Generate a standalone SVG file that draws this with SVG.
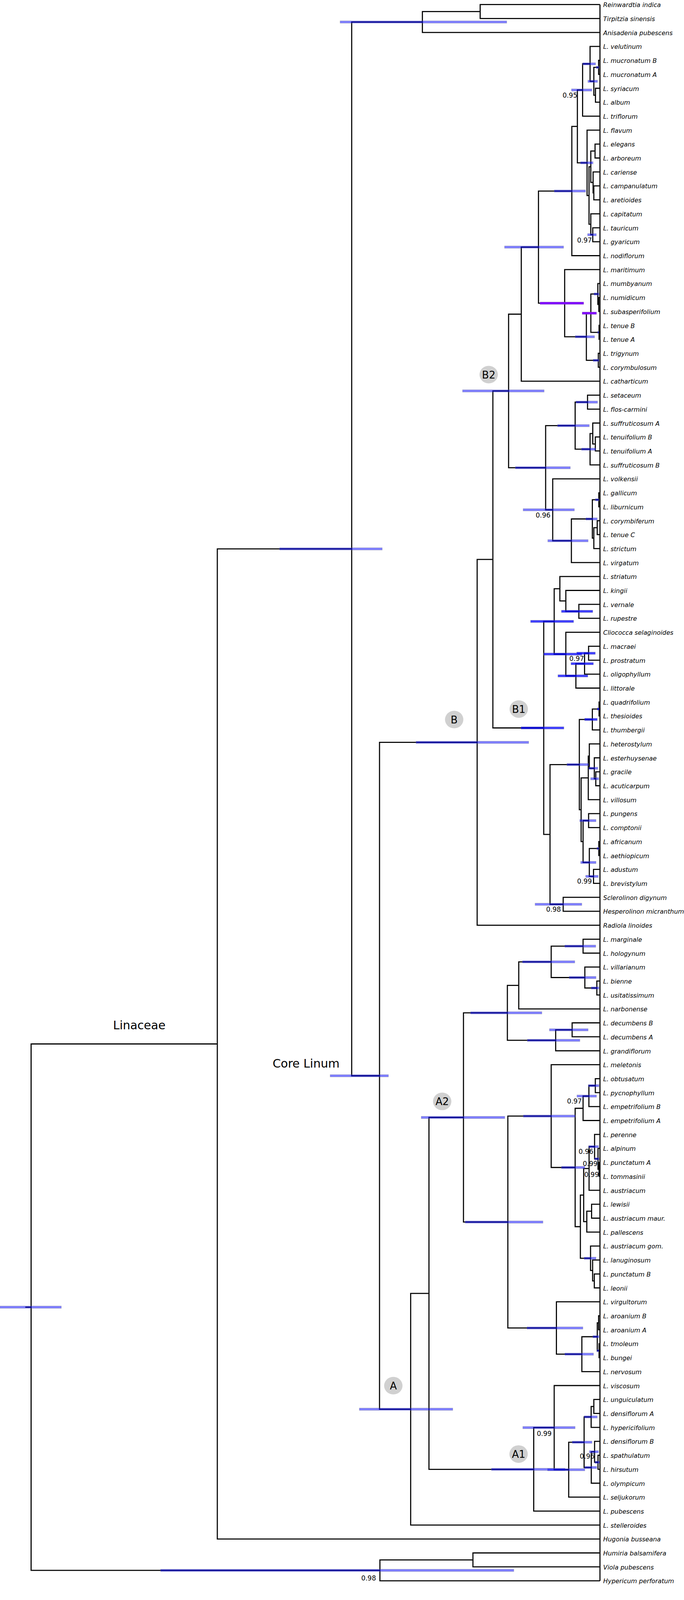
<svg xmlns="http://www.w3.org/2000/svg" width="1750" height="4125" viewBox="0 0 1750 4125">
<style>
.br{fill:none;stroke:#000;stroke-width:2.8;stroke-linejoin:miter;stroke-linecap:butt}
.b{fill:#0000ff;fill-opacity:.5;stroke:#808080;stroke-opacity:.45;stroke-width:1}
.s{fill:#0000ff;fill-opacity:.75;stroke:#808080;stroke-opacity:.45;stroke-width:1}
.p{fill:#8000ff;stroke:#808080;stroke-opacity:.45;stroke-width:1}
.t{font-family:"DejaVu Sans",Verdana,sans-serif;font-style:italic;font-size:15.9px;fill:#000}
.sv{font-family:"DejaVu Sans",Verdana,sans-serif;font-size:17px;text-anchor:end;fill:#000}
.big{font-family:"DejaVu Sans",Verdana,sans-serif;font-size:30px;fill:#000}
.cl ellipse{fill:#d0d0d0}
.cl text{font-family:"DejaVu Sans",Verdana,sans-serif;font-size:26px;text-anchor:middle;fill:#000}
.ax line,.ax path{stroke:#000;stroke-width:2.5;fill:none}
.ax text{font-family:"DejaVu Sans",Verdana,sans-serif;font-size:13px;text-anchor:middle;fill:#000}
</style>
<rect width="1750" height="4125" fill="#fff"/>
<g id="support">
<text class="sv" x="1477" y="250.4">0.95</text>
<text class="sv" x="1514.3" y="621.4">0.97</text>
<text class="sv" x="1408.3" y="1324.5">0.96</text>
<text class="sv" x="1494.4" y="1691.9">0.97</text>
<text class="sv" x="1514.3" y="2261.7">0.99</text>
<text class="sv" x="1435.1" y="2333.9">0.98</text>
<text class="sv" x="1488.7" y="2825.4">0.97</text>
<text class="sv" x="1518.2" y="2954.4">0.96</text>
<text class="sv" x="1528.9" y="2984.8">0.99</text>
<text class="sv" x="1532.5" y="3012.9">0.99</text>
<text class="sv" x="1411.4" y="3675.6">0.99</text>
<text class="sv" x="1521.2" y="3734.2">0.96</text>
<text class="sv" x="962" y="4045.5">0.98</text>
</g>
<g id="connectors" class="br">
<path d="M1535 11.7V4046.9"/>
<path d="M1535 11.7H1228.5V47.4H1535"/>
<path d="M1228.5 29.55H1080.7V83.1H1535"/>
<path d="M1080.7 56.3H899.8V2754H971"/>
<path d="M899.8 1405.15H556V3939.8H1535"/>
<path d="M556 2672.5H79.6V4020.1H972"/>
<path d="M64.7 3346.3H79.6"/>
<path d="M1210 3993.35H972V4046.9H1535"/>
<path d="M1535 3975.5H1210V4011.2H1535"/>
<path d="M1220.8 1900.4H971V3607.6H1050.7"/>
<path d="M1097.5 3311.1H1050.7V3904.1H1535"/>
<path d="M1185.8 2860.7H1097.5V3761.55H1365.5"/>
<path d="M1261 1432.15H1220.8V2368.6H1535"/>
<path d="M1301.2 1000.8H1261V1863.5H1391.1"/>
<path d="M1333.7 804.25H1301.2V1197.4H1396"/>
<path d="M1377.7 632.6H1333.7V975.9H1535"/>
<path d="M1463 489.05H1377.7V776.15H1444.7"/>
<path d="M1477.2 323.6H1463V654.5H1535"/>
<path d="M1490.6 230.4H1477.2V416.8H1502"/>
<path d="M1509.7 163.5H1490.6V297.4H1535"/>
<path d="M1535 118.8H1509.7V208.1H1519.3"/>
<path d="M1531.5 172.4H1519.3V243.85H1523.5"/>
<path d="M1535 154.5H1531.5V190.3H1535"/>
<path d="M1535 226H1523.5V261.7H1535"/>
<path d="M1535 333.1H1502V500.5H1507"/>
<path d="M1511.6 426.8H1507V574.2H1511.6"/>
<path d="M1522.4 386.65H1511.6V466.98H1517.4"/>
<path d="M1535 368.8H1522.4V404.5H1535"/>
<path d="M1535 440.2H1517.4V493.75H1519.3"/>
<path d="M1535 475.9H1519.3V511.6H1535"/>
<path d="M1535 547.4H1511.6V600.95H1516.6"/>
<path d="M1535 583.1H1516.6V618.8H1535"/>
<path d="M1535 690.2H1444.7V862.1H1500.2"/>
<path d="M1511.7 801.8H1500.2V922.35H1530.8"/>
<path d="M1529.6 752.7H1511.7V850.85H1532.7"/>
<path d="M1535 725.9H1529.6V779.45H1532"/>
<path d="M1535 761.6H1532V797.3H1535"/>
<path d="M1535 833H1532.7V868.7H1535"/>
<path d="M1535 904.5H1530.8V940.2H1535"/>
<path d="M1471.5 1089.7H1396V1305.05H1414.1"/>
<path d="M1503.2 1029.45H1471.5V1149.95H1509.7"/>
<path d="M1535 1011.6H1503.2V1047.3H1535"/>
<path d="M1516.6 1109.8H1509.7V1190.1H1535"/>
<path d="M1535 1083H1516.6V1136.55H1523.1"/>
<path d="M1535 1118.7H1523.1V1154.4H1535"/>
<path d="M1535 1225.8H1414.1V1384.3H1461.9"/>
<path d="M1515.5 1328.5H1461.9V1440.1H1535"/>
<path d="M1532 1279.45H1515.5V1377.6H1519.3"/>
<path d="M1535 1261.6H1532V1297.3H1535"/>
<path d="M1528 1350.85H1519.3V1404.4H1535"/>
<path d="M1535 1333H1528V1368.7H1535"/>
<path d="M1417.9 1590.8H1391.1V2136.15H1407.2"/>
<path d="M1432.4 1507.05H1417.9V1674.5H1447.7"/>
<path d="M1535 1475.8H1432.4V1538.3H1447.7"/>
<path d="M1535 1511.5H1447.7V1565.05H1481"/>
<path d="M1535 1547.2H1481V1582.9H1535"/>
<path d="M1535 1618.7H1447.7V1730.25H1473.4"/>
<path d="M1495.6 1699H1473.4V1761.5H1535"/>
<path d="M1505.9 1672.25H1495.6V1725.8H1535"/>
<path d="M1535 1654.4H1505.9V1690.1H1535"/>
<path d="M1482.2 1957.3H1407.2V2315H1440.9"/>
<path d="M1515.5 1841.8H1482.2V2072.85H1486.8"/>
<path d="M1532.7 1815.05H1515.5V1868.6H1535"/>
<path d="M1535 1797.2H1532.7V1832.9H1535"/>
<path d="M1505.1 1991.4H1486.8V2154.3H1491.8"/>
<path d="M1507.8 1935.55H1505.1V2047.2H1535"/>
<path d="M1535 1904.3H1507.8V1966.8H1520.5"/>
<path d="M1535 1940H1520.5V1993.65H1524.3"/>
<path d="M1535 1975.8H1524.3V2011.5H1535"/>
<path d="M1505.9 2100.75H1491.8V2207.85H1507.8"/>
<path d="M1535 2082.9H1505.9V2118.6H1535"/>
<path d="M1532 2172.15H1507.8V2243.55H1518.5"/>
<path d="M1535 2154.3H1532V2190H1535"/>
<path d="M1535 2225.7H1518.5V2261.4H1535"/>
<path d="M1535 2297.1H1440.9V2332.9H1535"/>
<path d="M1298.1 2592.9H1185.8V3128.45H1299.3"/>
<path d="M1327.2 2522.55H1298.1V2663.2H1421.7"/>
<path d="M1410.2 2462.3H1327.2V2582.8H1535"/>
<path d="M1491.8 2422.15H1410.2V2502.5H1496.3"/>
<path d="M1535 2404.3H1491.8V2440H1535"/>
<path d="M1535 2475.7H1496.3V2529.25H1527"/>
<path d="M1535 2511.4H1527V2547.1H1535"/>
<path d="M1463.8 2636.35H1421.7V2690H1535"/>
<path d="M1535 2618.5H1463.8V2654.2H1535"/>
<path d="M1410.2 2857.2H1299.3V3399.7H1423.6"/>
<path d="M1535 2725.7H1410.2V2988.75H1471.5"/>
<path d="M1491.8 2837.25H1471.5V3140.25H1484.9"/>
<path d="M1506.7 2806H1491.8V2868.5H1535"/>
<path d="M1523.1 2779.25H1506.7V2832.8H1535"/>
<path d="M1535 2761.4H1523.1V2797.1H1535"/>
<path d="M1493.3 3059.35H1484.9V3221.15H1510.9"/>
<path d="M1507.1 2991.3H1493.3V3127.4H1501.3"/>
<path d="M1521.2 2935.45H1507.1V3047.1H1535"/>
<path d="M1535 2904.2H1521.2V2966.7H1530"/>
<path d="M1535 2939.9H1530V2993.45H1532.7"/>
<path d="M1535 2975.6H1532.7V3011.3H1535"/>
<path d="M1513.6 3100.65H1501.3V3154.2H1535"/>
<path d="M1535 3082.8H1513.6V3118.5H1535"/>
<path d="M1535 3189.9H1510.9V3252.4H1516.2"/>
<path d="M1535 3225.6H1516.2V3279.15H1520.5"/>
<path d="M1535 3261.3H1520.5V3297H1535"/>
<path d="M1535 3332.7H1423.6V3466.65H1488.7"/>
<path d="M1528.1 3422H1488.7V3511.3H1535"/>
<path d="M1531.5 3386.3H1528.1V3457.75H1532.7"/>
<path d="M1535 3368.4H1531.5V3404.2H1535"/>
<path d="M1535 3439.9H1532.7V3475.6H1535"/>
<path d="M1417.9 3654.7H1365.5V3868.4H1535"/>
<path d="M1535 3547H1417.9V3762.4H1455"/>
<path d="M1494.4 3692.05H1455V3832.7H1535"/>
<path d="M1512.4 3627.3H1494.4V3756.8H1512.8"/>
<path d="M1519.3 3600.55H1512.4V3654.1H1535"/>
<path d="M1535 3582.7H1519.3V3618.4H1535"/>
<path d="M1521.2 3716.6H1512.8V3797H1535"/>
<path d="M1535 3689.8H1521.2V3743.4H1530"/>
<path d="M1535 3725.5H1530V3761.3H1535"/>
</g>
<g id="hpd-bars">
<rect class="b" x="870" y="53.3" width="426.6" height="6"/>
<rect class="b" x="715" y="1402.15" width="263" height="6"/>
<rect class="b" x="0" y="3343.3" width="157" height="6"/>
<rect class="b" x="410.7" y="4017.1" width="904" height="6"/>
<rect class="b" x="844.6" y="2751" width="149.3" height="6"/>
<rect class="b" x="919.2" y="3604.6" width="239.3" height="6"/>
<rect class="b" x="1077.6" y="2857.7" width="214" height="6"/>
<rect class="b" x="1064.3" y="1897.4" width="288.5" height="6"/>
<rect class="b" x="1183.3" y="997.8" width="208.9" height="6"/>
<rect class="s" x="1332.9" y="1860.5" width="109.9" height="6"/>
<rect class="b" x="1490.6" y="160.5" width="33.3" height="6"/>
<rect class="b" x="1504" y="205.1" width="24.9" height="6"/>
<rect class="b" x="1525" y="169.4" width="7.7" height="6"/>
<rect class="b" x="1462" y="227.4" width="52.3" height="6"/>
<rect class="b" x="1484.9" y="413.8" width="32.5" height="6"/>
<rect class="b" x="1417.9" y="486.05" width="80.4" height="6"/>
<rect class="b" x="1290.8" y="629.6" width="151.2" height="6"/>
<rect class="b" x="1503.2" y="597.95" width="22.6" height="6"/>
<rect class="p" x="1381.5" y="773.15" width="111.8" height="6"/>
<rect class="p" x="1489.5" y="798.8" width="36.7" height="6"/>
<rect class="b" x="1519.3" y="749.7" width="13.4" height="6"/>
<rect class="b" x="1528.9" y="847.85" width="3.8" height="6"/>
<rect class="b" x="1471.5" y="859.1" width="49.7" height="6"/>
<rect class="b" x="1517.4" y="919.35" width="15.3" height="6"/>
<rect class="b" x="1318.4" y="1194.4" width="140.8" height="6"/>
<rect class="b" x="1426.3" y="1086.7" width="81.5" height="6"/>
<rect class="b" x="1473.4" y="1026.45" width="55.5" height="6"/>
<rect class="b" x="1487.5" y="1146.95" width="36.8" height="6"/>
<rect class="b" x="1338.3" y="1302.05" width="131.3" height="6"/>
<rect class="b" x="1401.4" y="1381.3" width="103.4" height="6"/>
<rect class="b" x="1498.3" y="1325.5" width="29.8" height="6"/>
<rect class="b" x="1523" y="1276.45" width="9.7" height="6"/>
<rect class="s" x="1357.4" y="1587.8" width="110.2" height="6"/>
<rect class="s" x="1436.3" y="1562.05" width="80.3" height="6"/>
<rect class="s" x="1391.1" y="1671.5" width="97.6" height="6"/>
<rect class="s" x="1475.3" y="1669.25" width="47.8" height="6"/>
<rect class="s" x="1460.8" y="1696" width="57.4" height="6"/>
<rect class="s" x="1427.4" y="1727.25" width="76.6" height="6"/>
<rect class="s" x="1495.6" y="1838.8" width="32.5" height="6"/>
<rect class="s" x="1528" y="1812.05" width="5" height="6"/>
<rect class="b" x="1450.4" y="1954.3" width="55.6" height="6"/>
<rect class="b" x="1506" y="1963.8" width="23.6" height="6"/>
<rect class="b" x="1511" y="1990.65" width="21" height="6"/>
<rect class="b" x="1483" y="2097.75" width="42" height="6"/>
<rect class="b" x="1485.6" y="2204.85" width="39.4" height="6"/>
<rect class="b" x="1527" y="2169.15" width="5.7" height="6"/>
<rect class="b" x="1498.3" y="2240.55" width="32.5" height="6"/>
<rect class="b" x="1368.9" y="2312" width="119.8" height="6"/>
<rect class="b" x="1444.7" y="2419.15" width="79.6" height="6"/>
<rect class="b" x="1456.2" y="2499.5" width="68.8" height="6"/>
<rect class="b" x="1512.4" y="2526.25" width="20.3" height="6"/>
<rect class="b" x="1336.4" y="2459.3" width="134.3" height="6"/>
<rect class="b" x="1405.6" y="2633.35" width="99.2" height="6"/>
<rect class="b" x="1349" y="2660.2" width="134.7" height="6"/>
<rect class="b" x="1203.6" y="2589.9" width="182.9" height="6"/>
<rect class="b" x="1190" y="3125.45" width="199.2" height="6"/>
<rect class="b" x="1338.7" y="2854.2" width="132.8" height="6"/>
<rect class="b" x="1436.3" y="2985.75" width="60" height="6"/>
<rect class="b" x="1505.1" y="2776.25" width="27.6" height="6"/>
<rect class="b" x="1476" y="2803" width="50.2" height="6"/>
<rect class="b" x="1506" y="2932.45" width="25.5" height="6"/>
<rect class="b" x="1521" y="2963.7" width="11.7" height="6"/>
<rect class="b" x="1494.4" y="3218.15" width="30.6" height="6"/>
<rect class="b" x="1347.9" y="3396.7" width="143.5" height="6"/>
<rect class="b" x="1444.7" y="3463.65" width="73.8" height="6"/>
<rect class="b" x="1516.6" y="3419" width="16.1" height="6"/>
<rect class="b" x="1527" y="3454.75" width="5.7" height="6"/>
<rect class="b" x="1257.2" y="3758.55" width="188.6" height="6"/>
<rect class="b" x="1337.5" y="3651.7" width="134" height="6"/>
<rect class="b" x="1400.7" y="3759.4" width="95.6" height="6"/>
<rect class="b" x="1463.8" y="3689.05" width="50.9" height="6"/>
<rect class="b" x="1494.4" y="3624.3" width="33.7" height="6"/>
<rect class="b" x="1507.8" y="3713.6" width="23.7" height="6"/>
<rect class="b" x="1522" y="3740.4" width="12" height="6"/>
<rect class="b" x="1495.6" y="3753.8" width="31.4" height="6"/>
</g>
<g id="clade-labels">
<g id="lbl-linaceae"><text class="big" x="356.3" y="2635" text-anchor="middle">Linaceae</text></g>
<g id="lbl-core"><text class="big" x="697.4" y="2733">Core Linum</text></g>
<g id="lbl-B2" class="cl"><ellipse cx="1250.3" cy="959" rx="23.5" ry="22.5"/><text x="1250.3" y="968.5">B2</text></g>
<g id="lbl-B1" class="cl"><ellipse cx="1327.2" cy="1815.2" rx="23.5" ry="22.5"/><text x="1327.2" y="1824.7">B1</text></g>
<g id="lbl-B" class="cl"><ellipse cx="1162" cy="1842" rx="23.5" ry="22.5"/><text x="1162" y="1851.5">B</text></g>
<g id="lbl-A2" class="cl"><ellipse cx="1131.3" cy="2819.6" rx="23.5" ry="22.5"/><text x="1131.3" y="2829.1">A2</text></g>
<g id="lbl-A" class="cl"><ellipse cx="1006.3" cy="3547.3" rx="23.5" ry="22.5"/><text x="1006.3" y="3556.8">A</text></g>
<g id="lbl-A1" class="cl"><ellipse cx="1326.8" cy="3722.4" rx="23.5" ry="22.5"/><text x="1326.8" y="3731.9">A1</text></g>
</g>
<g id="tips" class="t">
<g id="t0"><text x="1543.3" y="18.2">Reinwardtia indica</text></g>
<g id="t1"><text x="1543.3" y="53.9">Tirpitzia sinensis</text></g>
<g id="t2"><text x="1543.3" y="89.6">Anisadenia pubescens</text></g>
<g id="t3"><text x="1543.3" y="125.3">L. velutinum</text></g>
<g id="t4"><text x="1543.3" y="161">L. mucronatum B</text></g>
<g id="t5"><text x="1543.3" y="196.8">L. mucronatum A</text></g>
<g id="t6"><text x="1543.3" y="232.5">L. syriacum</text></g>
<g id="t7"><text x="1543.3" y="268.2">L. album</text></g>
<g id="t8"><text x="1543.3" y="303.9">L. triflorum</text></g>
<g id="t9"><text x="1543.3" y="339.6">L. flavum</text></g>
<g id="t10"><text x="1543.3" y="375.3">L. elegans</text></g>
<g id="t11"><text x="1543.3" y="411">L. arboreum</text></g>
<g id="t12"><text x="1543.3" y="446.7">L. cariense</text></g>
<g id="t13"><text x="1543.3" y="482.4">L. campanulatum</text></g>
<g id="t14"><text x="1543.3" y="518.1">L. aretioides</text></g>
<g id="t15"><text x="1543.3" y="553.9">L. capitatum</text></g>
<g id="t16"><text x="1543.3" y="589.6">L. tauricum</text></g>
<g id="t17"><text x="1543.3" y="625.3">L. gyaricum</text></g>
<g id="t18"><text x="1543.3" y="661">L. nodiflorum</text></g>
<g id="t19"><text x="1543.3" y="696.7">L. maritimum</text></g>
<g id="t20"><text x="1543.3" y="732.4">L. mumbyanum</text></g>
<g id="t21"><text x="1543.3" y="768.1">L. numidicum</text></g>
<g id="t22"><text x="1543.3" y="803.8">L. subasperifolium</text></g>
<g id="t23"><text x="1543.3" y="839.5">L. tenue B</text></g>
<g id="t24"><text x="1543.3" y="875.2">L. tenue A</text></g>
<g id="t25"><text x="1543.3" y="911">L. trigynum</text></g>
<g id="t26"><text x="1543.3" y="946.7">L. corymbulosum</text></g>
<g id="t27"><text x="1543.3" y="982.4">L. catharticum</text></g>
<g id="t28"><text x="1543.3" y="1018.1">L. setaceum</text></g>
<g id="t29"><text x="1543.3" y="1053.8">L. flos-carmini</text></g>
<g id="t30"><text x="1543.3" y="1089.5">L. suffruticosum A</text></g>
<g id="t31"><text x="1543.3" y="1125.2">L. tenuifolium B</text></g>
<g id="t32"><text x="1543.3" y="1160.9">L. tenuifolium A</text></g>
<g id="t33"><text x="1543.3" y="1196.6">L. suffruticosum B</text></g>
<g id="t34"><text x="1543.3" y="1232.3">L. volkensii</text></g>
<g id="t35"><text x="1543.3" y="1268.1">L. gallicum</text></g>
<g id="t36"><text x="1543.3" y="1303.8">L. liburnicum</text></g>
<g id="t37"><text x="1543.3" y="1339.5">L. corymbiferum</text></g>
<g id="t38"><text x="1543.3" y="1375.2">L. tenue C</text></g>
<g id="t39"><text x="1543.3" y="1410.9">L. strictum</text></g>
<g id="t40"><text x="1543.3" y="1446.6">L. virgatum</text></g>
<g id="t41"><text x="1543.3" y="1482.3">L. striatum</text></g>
<g id="t42"><text x="1543.3" y="1518">L. kingii</text></g>
<g id="t43"><text x="1543.3" y="1553.7">L. vernale</text></g>
<g id="t44"><text x="1543.3" y="1589.4">L. rupestre</text></g>
<g id="t45"><text x="1543.3" y="1625.2">Cliococca selaginoides</text></g>
<g id="t46"><text x="1543.3" y="1660.9">L. macraei</text></g>
<g id="t47"><text x="1543.3" y="1696.6">L. prostratum</text></g>
<g id="t48"><text x="1543.3" y="1732.3">L. oligophyllum</text></g>
<g id="t49"><text x="1543.3" y="1768">L. littorale</text></g>
<g id="t50"><text x="1543.3" y="1803.7">L. quadrifolium</text></g>
<g id="t51"><text x="1543.3" y="1839.4">L. thesioides</text></g>
<g id="t52"><text x="1543.3" y="1875.1">L. thumbergii</text></g>
<g id="t53"><text x="1543.3" y="1910.8">L. heterostylum</text></g>
<g id="t54"><text x="1543.3" y="1946.5">L. esterhuysenae</text></g>
<g id="t55"><text x="1543.3" y="1982.3">L. gracile</text></g>
<g id="t56"><text x="1543.3" y="2018">L. acuticarpum</text></g>
<g id="t57"><text x="1543.3" y="2053.7">L. villosum</text></g>
<g id="t58"><text x="1543.3" y="2089.4">L. pungens</text></g>
<g id="t59"><text x="1543.3" y="2125.1">L. comptonii</text></g>
<g id="t60"><text x="1543.3" y="2160.8">L. africanum</text></g>
<g id="t61"><text x="1543.3" y="2196.5">L. aethiopicum</text></g>
<g id="t62"><text x="1543.3" y="2232.2">L. adustum</text></g>
<g id="t63"><text x="1543.3" y="2267.9">L. brevistylum</text></g>
<g id="t64"><text x="1543.3" y="2303.6">Sclerolinon digynum</text></g>
<g id="t65"><text x="1543.3" y="2339.4">Hesperolinon micranthum</text></g>
<g id="t66"><text x="1543.3" y="2375.1">Radiola linoides</text></g>
<g id="t67"><text x="1543.3" y="2410.8">L. marginale</text></g>
<g id="t68"><text x="1543.3" y="2446.5">L. hologynum</text></g>
<g id="t69"><text x="1543.3" y="2482.2">L. villarianum</text></g>
<g id="t70"><text x="1543.3" y="2517.9">L. bienne</text></g>
<g id="t71"><text x="1543.3" y="2553.6">L. usitatissimum</text></g>
<g id="t72"><text x="1543.3" y="2589.3">L. narbonense</text></g>
<g id="t73"><text x="1543.3" y="2625">L. decumbens B</text></g>
<g id="t74"><text x="1543.3" y="2660.7">L. decumbens A</text></g>
<g id="t75"><text x="1543.3" y="2696.5">L. grandiflorum</text></g>
<g id="t76"><text x="1543.3" y="2732.2">L. meletonis</text></g>
<g id="t77"><text x="1543.3" y="2767.9">L. obtusatum</text></g>
<g id="t78"><text x="1543.3" y="2803.6">L. pycnophyllum</text></g>
<g id="t79"><text x="1543.3" y="2839.3">L. empetrifolium B</text></g>
<g id="t80"><text x="1543.3" y="2875">L. empetrifolium A</text></g>
<g id="t81"><text x="1543.3" y="2910.7">L. perenne</text></g>
<g id="t82"><text x="1543.3" y="2946.4">L. alpinum</text></g>
<g id="t83"><text x="1543.3" y="2982.1">L. punctatum A</text></g>
<g id="t84"><text x="1543.3" y="3017.8">L. tommasinii</text></g>
<g id="t85"><text x="1543.3" y="3053.6">L. austriacum</text></g>
<g id="t86"><text x="1543.3" y="3089.3">L. lewisii</text></g>
<g id="t87"><text x="1543.3" y="3125">L. austriacum maur.</text></g>
<g id="t88"><text x="1543.3" y="3160.7">L. pallescens</text></g>
<g id="t89"><text x="1543.3" y="3196.4">L. austriacum gom.</text></g>
<g id="t90"><text x="1543.3" y="3232.1">L. lanuginosum</text></g>
<g id="t91"><text x="1543.3" y="3267.8">L. punctatum B</text></g>
<g id="t92"><text x="1543.3" y="3303.5">L. leonii</text></g>
<g id="t93"><text x="1543.3" y="3339.2">L. virgultorum</text></g>
<g id="t94"><text x="1543.3" y="3374.9">L. aroanium B</text></g>
<g id="t95"><text x="1543.3" y="3410.7">L. aroanium A</text></g>
<g id="t96"><text x="1543.3" y="3446.4">L. tmoleum</text></g>
<g id="t97"><text x="1543.3" y="3482.1">L. bungei</text></g>
<g id="t98"><text x="1543.3" y="3517.8">L. nervosum</text></g>
<g id="t99"><text x="1543.3" y="3553.5">L. viscosum</text></g>
<g id="t100"><text x="1543.3" y="3589.2">L. unguiculatum</text></g>
<g id="t101"><text x="1543.3" y="3624.9">L. densiflorum A</text></g>
<g id="t102"><text x="1543.3" y="3660.6">L. hypericifolium</text></g>
<g id="t103"><text x="1543.3" y="3696.3">L. densiflorum B</text></g>
<g id="t104"><text x="1543.3" y="3732">L. spathulatum</text></g>
<g id="t105"><text x="1543.3" y="3767.8">L. hirsutum</text></g>
<g id="t106"><text x="1543.3" y="3803.5">L. olympicum</text></g>
<g id="t107"><text x="1543.3" y="3839.2">L. seljukorum</text></g>
<g id="t108"><text x="1543.3" y="3874.9">L. pubescens</text></g>
<g id="t109"><text x="1543.3" y="3910.6">L. stelleroides</text></g>
<g id="t110"><text x="1543.3" y="3946.3">Hugonia busseana</text></g>
<g id="t111"><text x="1543.3" y="3982">Humiria balsamifera</text></g>
<g id="t112"><text x="1543.3" y="4017.7">Viola pubescens</text></g>
<g id="t113"><text x="1543.3" y="4053.4">Hypericum perforatum</text></g>
</g>
<g id="axis" class="ax">
<path d="M64.7 4100H1535.7"/>
<path d="M1535.7 4100v7M1376.1 4100v7M1216.5 4100v7M1056.9 4100v7M897.3 4100v7M737.7 4100v7M578.1 4100v7M418.5 4100v7M258.9 4100v7M99.3 4100v7"/>
<path d="M1455.9 4100v4M1296.3 4100v4M1136.7 4100v4M977.1 4100v4M817.5 4100v4M657.9 4100v4M498.3 4100v4M338.7 4100v4M179.1 4100v4"/>
<text x="1535.7" y="4123">0</text>
<text x="1376.1" y="4123">10</text>
<text x="1216.5" y="4123">20</text>
<text x="1056.9" y="4123">30</text>
<text x="897.3" y="4123">40</text>
<text x="737.7" y="4123">50</text>
<text x="578.1" y="4123">60</text>
<text x="418.5" y="4123">70</text>
<text x="258.9" y="4123">80</text>
<text x="99.3" y="4123">90</text>
</g>
</svg>
